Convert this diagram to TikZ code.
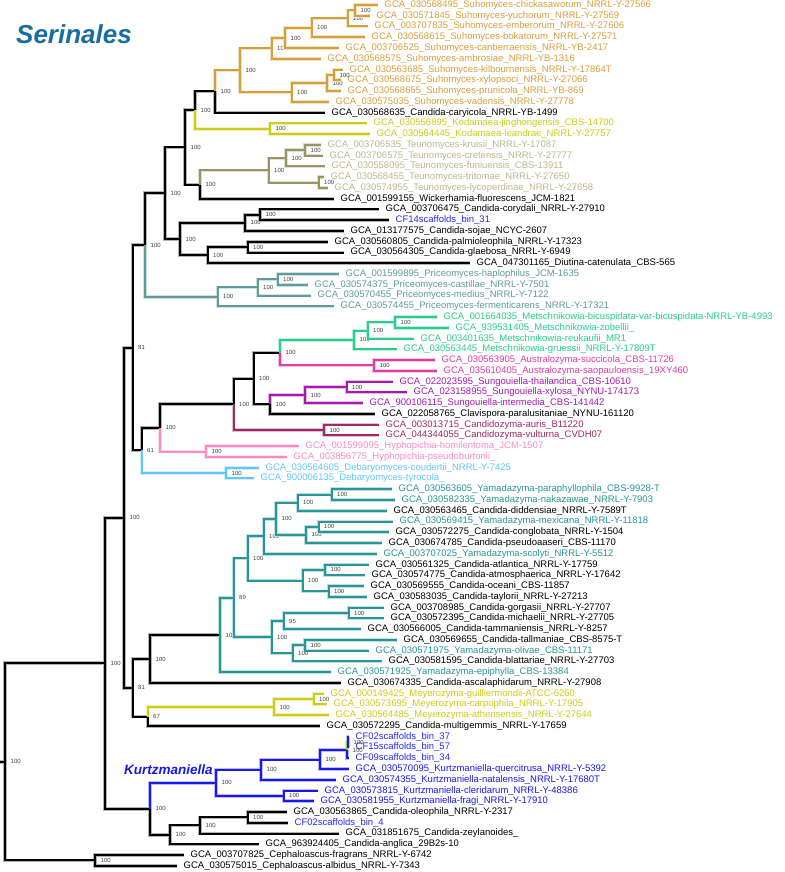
\documentclass[tikz,border=0pt]{standalone}
\usepackage{fontspec}
\setmainfont{Liberation Sans}
\usetikzlibrary{calc}

\definecolor{suho}{RGB}{213,160,60}
\definecolor{koda}{RGB}{205,205,20}
\definecolor{teun}{RGB}{150,150,100}
\definecolor{teunT}{RGB}{185,185,140}
\definecolor{prico}{RGB}{95,155,155}
\definecolor{mets}{RGB}{40,205,140}
\definecolor{aust}{RGB}{225,60,165}
\definecolor{sung}{RGB}{165,25,175}
\definecolor{cand}{RGB}{160,40,100}
\definecolor{hyph}{RGB}{250,140,195}
\definecolor{deba}{RGB}{95,200,250}
\definecolor{yama}{RGB}{40,150,150}
\definecolor{meye}{RGB}{205,205,20}
\definecolor{kurtz}{RGB}{25,25,235}
\definecolor{binT}{RGB}{40,40,250}
\definecolor{lime}{RGB}{140,200,60}
\definecolor{serin}{RGB}{25,110,160}

\tikzset{
  leaf/.style={anchor=west, inner xsep=6.5pt, inner ysep=0pt, font=\fontsize{9.5}{11}\selectfont},
  boot/.style={anchor=west, xshift=5.5pt, inner sep=0pt, font=\fontsize{6}{6}\selectfont, text=black!75},
  cladename/.style={anchor=west, inner sep=0pt, font=\bfseries\itshape},
}

% internal node at x = #2, halfway between its two children
\newcommand\clade[5]{%
  \path let \p1=($(#3)!.5!(#4)$) in (#2pt,\y1) coordinate (#1);
  \node[boot] at (#1) {#5};}
% one branch, from a node to one of its children
\newcommand\br[3]{\draw[branch=#1] (#2) |- (#3);}

\newcommand\treebranches{%
  % backbone
  \draw[branch=black] (rootstub) -- (root);
  \br{black}{root}{a} \br{black}{root}{ce}
  \br{black}{ce}{l80} \br{black}{ce}{l81}
  \br{black}{a}{b} \br{black}{a}{c}
  \br{black}{b}{d} \br{black}{b}{e}
  \br{black}{d}{f} \br{black}{d}{g}
  \br{black}{f}{o} \br{prico}{f}{pr3}
  \br{black}{o}{n12} \br{black}{o}{q3}
  \br{black}{n12}{n11} \br{black}{n12}{tw}
  \br{black}{n11}{su10} \br{koda}{n11}{ko1}
  % Suhomyces
  \br{suho}{su10}{su9} \br{black}{su10}{l11}
  \br{suho}{su9}{su5} \br{suho}{su9}{su8}
  \br{suho}{su5}{su4} \br{suho}{su5}{l6}
  \br{suho}{su4}{su3} \br{suho}{su4}{l5}
  \br{suho}{su3}{su2} \br{suho}{su3}{l4}
  \br{suho}{su2}{su1} \br{suho}{su2}{l3}
  \br{suho}{su1}{l1} \br{suho}{su1}{l2}
  \br{suho}{su8}{su7} \br{suho}{su8}{l10}
  \br{suho}{su7}{su6} \br{suho}{su7}{l9}
  \br{suho}{su6}{l7} \br{suho}{su6}{l8}
  % Kodamaea
  \br{koda}{ko1}{l12} \br{koda}{ko1}{l13}
  % Teunomyces
  \br{teun}{tw}{te4} \br{black}{tw}{l19}
  \br{teun}{te4}{te2} \br{teun}{te4}{te3}
  \br{teun}{te2}{te1} \br{teun}{te2}{l16}
  \br{teun}{te1}{l14} \br{teun}{te1}{l15}
  \br{teun}{te3}{l17} \br{teun}{te3}{l18}
  % Candida / Diutina
  \br{black}{q3}{q2} \br{black}{q3}{p2}
  \br{black}{q2}{q1} \br{black}{q2}{l22}
  \br{black}{q1}{l20} \br{black}{q1}{l21}
  \br{black}{p2}{p1} \br{black}{p2}{l25}
  \br{black}{p1}{l23} \br{black}{p1}{l24}
  % Priceomyces
  \br{prico}{pr3}{pr2} \br{prico}{pr3}{l29}
  \br{prico}{pr2}{pr1} \br{prico}{pr2}{l28}
  \br{prico}{pr1}{l26} \br{prico}{pr1}{l27}
  % Debaryomyces, Hyphopichia, Candidozyma
  \br{black}{g}{hx} \br{deba}{g}{db}
  \br{deba}{db}{l44} \br{deba}{db}{l45}
  \br{black}{hx}{hw} \br{hyph}{hx}{hy}
  \br{hyph}{hy}{l42} \br{hyph}{hy}{l43}
  \br{black}{hw}{v} \br{cand}{hw}{cz}
  \br{cand}{cz}{l40} \br{cand}{cz}{l41}
  % Metschnikowia, Australozyma, Sungouiella
  \br{black}{v}{u} \br{black}{v}{sg3}
  \br{mets}{u}{me3} \br{aust}{u}{au}
  \br{mets}{me3}{me2} \br{mets}{me3}{l33}
  \br{mets}{me2}{me1} \br{mets}{me2}{l32}
  \br{mets}{me1}{l30} \br{mets}{me1}{l31}
  \br{aust}{au}{l34} \br{aust}{au}{l35}
  \br{sung}{sg3}{sg2} \br{black}{sg3}{l39}
  \br{sung}{sg2}{sg1} \br{sung}{sg2}{l38}
  \br{sung}{sg1}{l36} \br{sung}{sg1}{l37}
  % Yamadazyma
  \br{black}{e}{e2} \br{black}{e}{e3}
  \br{black}{e2}{ya17} \br{black}{e2}{l64}
  \br{yama}{ya17}{ya16} \br{yama}{ya17}{l63}
  \br{yama}{ya16}{ya10} \br{yama}{ya16}{ya15}
  \br{yama}{ya10}{ya6} \br{yama}{ya10}{ya9}
  \br{yama}{ya6}{ya5} \br{yama}{ya6}{l52}
  \br{yama}{ya5}{ya2} \br{yama}{ya5}{ya4}
  \br{yama}{ya2}{ya1} \br{yama}{ya2}{l48}
  \br{yama}{ya1}{l46} \br{yama}{ya1}{l47}
  \br{yama}{ya4}{ya3} \br{yama}{ya4}{l51}
  \br{yama}{ya3}{l49} \br{yama}{ya3}{l50}
  \br{yama}{ya9}{ya7} \br{yama}{ya9}{ya8}
  \br{yama}{ya7}{l53} \br{yama}{ya7}{l54}
  \br{yama}{ya8}{l55} \br{yama}{ya8}{l56}
  \br{yama}{ya15}{ya12} \br{yama}{ya15}{ya14}
  \br{yama}{ya12}{ya11} \br{yama}{ya12}{l59}
  \br{yama}{ya11}{l57} \br{yama}{ya11}{l58}
  \br{yama}{ya14}{ya13} \br{yama}{ya14}{l62}
  \br{yama}{ya13}{l60} \br{yama}{ya13}{l61}
  % Meyerozyma
  \br{meye}{e3}{my2} \br{black}{e3}{l68}
  \br{meye}{my2}{my1} \br{meye}{my2}{l67}
  \br{meye}{my1}{l65} \br{meye}{my1}{l66}
  % Kurtzmaniella
  \br{kurtz}{c}{ku6} \br{black}{c}{ca3}
  \br{kurtz}{ku6}{ku4} \br{kurtz}{ku6}{ku5}
  \br{kurtz}{ku4}{ku3} \br{kurtz}{ku4}{l73}
  \br{kurtz}{ku3}{ku2} \br{kurtz}{ku3}{l72}
  \br{lime}{ku2}{ku1} \br{kurtz}{ku2}{l71}
  \br{kurtz}{ku1}{l69} \br{kurtz}{ku1}{l70}
  \br{kurtz}{ku5}{l74} \br{kurtz}{ku5}{l75}
  % Candida oleophila group
  \br{black}{ca3}{ca2} \br{black}{ca3}{l79}
  \br{black}{ca2}{ca1} \br{black}{ca2}{l78}
  \br{black}{ca1}{l76} \br{black}{ca1}{l77}
}

\begin{document}
\begin{tikzpicture}[x=1pt, y=-1pt]
    \useasboundingbox (0,0) rectangle (784,872);

    % Title
    \node[cladename, text=serin, font=\fontsize{26}{30}\selectfont\bfseries\itshape] (serinales) at (16,34) {Serinales};

    % Leaves: Suhomyces
    \node[leaf, text=suho] (l1) at (378,5.0) {GCA\_030568495\_Suhomyces-chickasaworum\_NRRL-Y-27566};
    \node[leaf, text=suho] (l2) at (370,15.8) {GCA\_030571845\_Suhomyces-yuchorum\_NRRL-Y-27569};
    \node[leaf, text=suho] (l3) at (368,26.5) {GCA\_003707835\_Suhomyces-emberorum\_NRRL-Y-27606};
    \node[leaf, text=suho] (l4) at (365,37.3) {GCA\_030568615\_Suhomyces-bokatorum\_NRRL-Y-27571};
    \node[leaf, text=suho] (l5) at (339,48.0) {GCA\_003706525\_Suhomyces-canberraensis\_NRRL-YB-2417};
    \node[leaf, text=suho] (l6) at (321,58.8) {GCA\_030568575\_Suhomyces-ambrosiae\_NRRL-YB-1316};
    \node[leaf, text=suho] (l7) at (343,69.6) {GCA\_030563685\_Suhomyces-kilbournensis\_NRRL-Y-17864T};
    \node[leaf, text=suho] (l8) at (341,80.3) {GCA\_030568675\_Suhomyces-xylopsoci\_NRRL-Y-27066};
    \node[leaf, text=suho] (l9) at (341,91.1) {GCA\_030568655\_Suhomyces-prunicola\_NRRL-YB-869};
    \node[leaf, text=suho] (l10) at (329,101.8) {GCA\_030575035\_Suhomyces-vadensis\_NRRL-Y-27778};
    \node[leaf] (l11) at (325,112.6) {GCA\_030568635\_Candida-caryicola\_NRRL-YB-1499};
    % Kodamaea
    \node[leaf, text=koda] (l12) at (367,123.4) {GCA\_030556895\_Kodamaea-jinghongensis\_CBS-14700};
    \node[leaf, text=koda] (l13) at (370,134.1) {GCA\_030564445\_Kodamaea-leandrae\_NRRL-Y-27757};
    % Teunomyces
    \node[leaf, text=teunT] (l14) at (321,144.9) {GCA\_003706535\_Teunomyces-kruisii\_NRRL-Y-17087};
    \node[leaf, text=teunT] (l15) at (323,155.6) {GCA\_003706575\_Teunomyces-cretensis\_NRRL-Y-27777};
    \node[leaf, text=teunT] (l16) at (325,166.4) {GCA\_030558095\_Teunomyces-funiuensis\_CBS-13911};
    \node[leaf, text=teunT] (l17) at (324,177.2) {GCA\_030568455\_Teunomyces-tritomae\_NRRL-Y-27650};
    \node[leaf, text=teunT] (l18) at (328,187.9) {GCA\_030574955\_Teunomyces-lycoperdinae\_NRRL-Y-27658};
    \node[leaf] (l19) at (334,198.7) {GCA\_001599155\_Wickerhamia-fluorescens\_JCM-1821};
    % Candida / Diutina
    \node[leaf] (l20) at (379,209.4) {GCA\_003706475\_Candida-corydali\_NRRL-Y-27910};
    \node[leaf, text=binT] (l21) at (389,220.2) {CF14scaffolds\_bin\_31};
    \node[leaf] (l22) at (344,231.0) {GCA\_013177575\_Candida-sojae\_NCYC-2607};
    \node[leaf] (l23) at (328,241.7) {GCA\_030560805\_Candida-palmioleophila\_NRRL-Y-17323};
    \node[leaf] (l24) at (344,252.5) {GCA\_030564305\_Candida-glaebosa\_NRRL-Y-6949};
    \node[leaf] (l25) at (470,263.2) {GCA\_047301165\_Diutina-catenulata\_CBS-565};
    % Priceomyces
    \node[leaf, text=prico] (l26) at (339,274.0) {GCA\_001599895\_Priceomyces-haplophilus\_JCM-1635};
    \node[leaf, text=prico] (l27) at (308,284.8) {GCA\_030574375\_Priceomyces-castillae\_NRRL-Y-7501};
    \node[leaf, text=prico] (l28) at (311,295.5) {GCA\_030570455\_Priceomyces-medius\_NRRL-Y-7122};
    \node[leaf, text=prico] (l29) at (334,306.3) {GCA\_030574455\_Priceomyces-fermenticarens\_NRRL-Y-17321};
    % Metschnikowia
    \node[leaf, text=mets] (l30) at (437,317.0) {GCA\_001664035\_Metschnikowia-bicuspidata-var-bicuspidata-NRRL-YB-4993};
    \node[leaf, text=mets] (l31) at (449,327.8) {GCA\_939531405\_Metschnikowia-zobellii\_};
    \node[leaf, text=mets] (l32) at (414,338.6) {GCA\_003401635\_Metschnikowia-reukaufii\_MR1};
    \node[leaf, text=mets] (l33) at (397,349.3) {GCA\_030563445\_Metschnikowia-gruessii\_NRRL-Y-17809T};
    % Australozyma
    \node[leaf, text=aust] (l34) at (435,360.1) {GCA\_030563905\_Australozyma-succicola\_CBS-11726};
    \node[leaf, text=aust] (l35) at (437,370.8) {GCA\_035610405\_Australozyma-saopauloensis\_19XY460};
    % Sungouiella
    \node[leaf, text=sung] (l36) at (393,381.6) {GCA\_022023595\_Sungouiella-thailandica\_CBS-10610};
    \node[leaf, text=sung] (l37) at (407,392.4) {GCA\_023158955\_Sungouiella-xylosa\_NYNU-174173};
    \node[leaf, text=sung] (l38) at (363,403.1) {GCA\_900106115\_Sungouiella-intermedia\_CBS-141442};
    \node[leaf] (l39) at (375,413.9) {GCA\_022058765\_Clavispora-paralusitaniae\_NYNU-161120};
    % Candidozyma
    \node[leaf, text=cand] (l40) at (379,424.6) {GCA\_003013715\_Candidozyma-auris\_B11220};
    \node[leaf, text=cand] (l41) at (379,435.4) {GCA\_044344055\_Candidozyma-vulturna\_CVDH07};
    % Hyphopichia
    \node[leaf, text=hyph] (l42) at (299,446.2) {GCA\_001599095\_Hyphopichia-homilentoma\_JCM-1507};
    \node[leaf, text=hyph] (l43) at (287,456.9) {GCA\_003856775\_Hyphopichia-pseudoburtonii\_};
    % Debaryomyces
    \node[leaf, text=deba] (l44) at (259,467.7) {GCA\_030564605\_Debaryomyces-coudertii\_NRRL-Y-7425};
    \node[leaf, text=deba] (l45) at (254,478.4) {GCA\_900006135\_Debaryomyces-tyrocola\_};
    % Yamadazyma
    \node[leaf, text=yama] (l46) at (392,489.2) {GCA\_030563605\_Yamadazyma-paraphyllophila\_CBS-9928-T};
    \node[leaf, text=yama] (l47) at (395,500.0) {GCA\_030582335\_Yamadazyma-nakazawae\_NRRL-Y-7903};
    \node[leaf] (l48) at (387,510.7) {GCA\_030563465\_Candida-diddensiae\_NRRL-Y-7589T};
    \node[leaf, text=yama] (l49) at (393,521.5) {GCA\_030569415\_Yamadazyma-mexicana\_NRRL-Y-11818};
    \node[leaf] (l50) at (389,532.2) {GCA\_030572275\_Candida-conglobata\_NRRL-Y-1504};
    \node[leaf] (l51) at (382,543.0) {GCA\_030674785\_Candida-pseudoaaseri\_CBS-11170};
    \node[leaf, text=yama] (l52) at (377,553.8) {GCA\_003707025\_Yamadazyma-scolyti\_NRRL-Y-5512};
    \node[leaf] (l53) at (369,564.5) {GCA\_030561325\_Candida-atlantica\_NRRL-Y-17759};
    \node[leaf] (l54) at (365,575.3) {GCA\_030574775\_Candida-atmosphaerica\_NRRL-Y-17642};
    \node[leaf] (l55) at (364,586.0) {GCA\_030569555\_Candida-oceani\_CBS-11857};
    \node[leaf] (l56) at (367,596.8) {GCA\_030583035\_Candida-taylorii\_NRRL-Y-27213};
    \node[leaf] (l57) at (384,607.6) {GCA\_003708985\_Candida-gorgasii\_NRRL-Y-27707};
    \node[leaf] (l58) at (384,618.3) {GCA\_030572395\_Candida-michaelii\_NRRL-Y-27705};
    \node[leaf] (l59) at (361,629.1) {GCA\_030566005\_Candida-tammaniensis\_NRRL-Y-8257};
    \node[leaf] (l60) at (397,639.8) {GCA\_030569655\_Candida-tallmaniae\_CBS-8575-T};
    \node[leaf, text=yama] (l61) at (369,650.6) {GCA\_030571975\_Yamadazyma-olivae\_CBS-11171};
    \node[leaf] (l62) at (382,661.4) {GCA\_030581595\_Candida-blattariae\_NRRL-Y-27703};
    \node[leaf, text=yama] (l63) at (331,672.1) {GCA\_030571925\_Yamadazyma-epiphylla\_CBS-13384};
    \node[leaf] (l64) at (341,682.9) {GCA\_030674335\_Candida-ascalaphidarum\_NRRL-Y-27908};
    % Meyerozyma
    \node[leaf, text=meye] (l65) at (324,693.6) {GCA\_000149425\_Meyerozyma-guilliermondii-ATCC-6260};
    \node[leaf, text=meye] (l66) at (327,704.4) {GCA\_030573695\_Meyerozyma-carpophila\_NRRL-Y-17905};
    \node[leaf, text=meye] (l67) at (329,715.2) {GCA\_030564485\_Meyerozyma-athensensis\_NRRL-Y-27644};
    \node[leaf] (l68) at (320,725.9) {GCA\_030572295\_Candida-multigemmis\_NRRL-Y-17659};
    % Kurtzmaniella
    \node[leaf, text=binT] (l69) at (349,736.7) {CF02scaffolds\_bin\_37};
    \node[leaf, text=binT] (l70) at (349,747.4) {CF15scaffolds\_bin\_57};
    \node[leaf, text=binT] (l71) at (349,758.2) {CF09scaffolds\_bin\_34};
    \node[leaf, text=kurtz] (l72) at (349,769.0) {GCA\_030570095\_Kurtzmaniella-quercitrusa\_NRRL-Y-5392};
    \node[leaf, text=kurtz] (l73) at (336,779.7) {GCA\_030574355\_Kurtzmaniella-natalensis\_NRRL-Y-17680T};
    \node[leaf, text=kurtz] (l74) at (318,790.5) {GCA\_030573815\_Kurtzmaniella-cleridarum\_NRRL-Y-48386};
    \node[leaf, text=kurtz] (l75) at (314,801.2) {GCA\_030581955\_Kurtzmaniella-fragi\_NRRL-Y-17910};
    % Candida oleophila group, Cephaloascus
    \node[leaf] (l76) at (287,812.0) {GCA\_030563865\_Candida-oleophila\_NRRL-Y-2317};
    \node[leaf, text=binT] (l77) at (288,822.8) {CF02scaffolds\_bin\_4};
    \node[leaf] (l78) at (339,833.5) {GCA\_031851675\_Candida-zeylanoides\_};
    \node[leaf] (l79) at (259,844.3) {GCA\_963924405\_Candida-anglica\_29B2s-10};
    \node[leaf] (l80) at (184,855.0) {GCA\_003707825\_Cephaloascus-fragrans\_NRRL-Y-6742};
    \node[leaf] (l81) at (177,865.8) {GCA\_030575015\_Cephaloascus-albidus\_NRRL-Y-7343};

    % Internal nodes with support values
    \clade{su1}{355}{l1}{l2}{100}
    \clade{su2}{347.5}{su1}{l3}{100}
    \clade{su3}{311.5}{su2}{l4}{100}
    \clade{su4}{285}{su3}{l5}{100}
    \clade{su5}{271.5}{su4}{l6}{100}
    \clade{su6}{334}{l7}{l8}{100}
    \clade{su7}{327}{su6}{l9}{100}
    \clade{su8}{291.5}{su7}{l10}{100}
    \clade{su9}{240}{su5}{su8}{100}
    \clade{su10}{215}{su9}{l11}{100}
    \clade{ko1}{270}{l12}{l13}{100}
    \clade{n11}{195}{su10}{ko1}{100}
    \clade{te1}{305}{l14}{l15}{100}
    \clade{te2}{286}{te1}{l16}{100}
    \clade{te3}{318.5}{l17}{l18}{100}
    \clade{te4}{268.5}{te2}{te3}{100}
    \clade{tw}{200}{te4}{l19}{100}
    \clade{n12}{185}{n11}{tw}{100}
    \clade{q1}{260}{l20}{l21}{100}
    \clade{q2}{245}{q1}{l22}{100}
    \clade{p1}{247.5}{l23}{l24}{100}
    \clade{p2}{207.5}{p1}{l25}{100}
    \clade{q3}{180}{q2}{p2}{100}
    \clade{o}{165}{n12}{q3}{100}
    \clade{pr1}{277.5}{l26}{l27}{100}
    \clade{pr2}{257.5}{pr1}{l28}{100}
    \clade{pr3}{217.5}{pr2}{l29}{100}
    \clade{f}{145}{o}{pr3}{100}
    \clade{me1}{395}{l30}{l31}{100}
    \clade{me2}{367.5}{me1}{l32}{100}
    \clade{me3}{354}{me2}{l33}{100}
    \clade{au}{374}{l34}{l35}{100}
    \clade{u}{280}{me3}{au}{100}
    \clade{sg1}{346.5}{l36}{l37}{100}
    \clade{sg2}{305}{sg1}{l38}{100}
    \clade{sg3}{270}{sg2}{l39}{100}
    \clade{v}{253.5}{u}{sg3}{100}
    \clade{cz}{324}{l40}{l41}{100}
    \clade{hw}{233.5}{v}{cz}{100}
    \clade{hy}{206}{l42}{l43}{100}
    \clade{hx}{160}{hw}{hy}{100}
    \clade{db}{226}{l44}{l45}{100}
    \clade{g}{141.5}{hx}{db}{61}
    \clade{d}{132.5}{f}{g}{81}
    \clade{ya1}{331.5}{l46}{l47}{100}
    \clade{ya2}{297.5}{ya1}{l48}{100}
    \clade{ya3}{318.5}{l49}{l50}{100}
    \clade{ya4}{306}{ya3}{l51}{100}
    \clade{ya5}{276}{ya2}{ya4}{100}
    \clade{ya6}{263.5}{ya5}{l52}{100}
    \clade{ya7}{325}{l53}{l54}{100}
    \clade{ya8}{328.5}{l55}{l56}{100}
    \clade{ya9}{302.5}{ya7}{ya8}{100}
    \clade{ya10}{247.5}{ya6}{ya9}{100}
    \clade{ya11}{348.5}{l57}{l58}{100}
    \clade{ya12}{283.5}{ya11}{l59}{95}
    \clade{ya13}{305}{l60}{l61}{100}
    \clade{ya14}{292.5}{ya13}{l62}{100}
    \clade{ya15}{271.5}{ya12}{ya14}{100}
    \clade{ya16}{233.5}{ya10}{ya15}{89}
    \clade{ya17}{220}{ya16}{l63}{100}
    \clade{e2}{150}{ya17}{l64}{100}
    \clade{my1}{313.5}{l65}{l66}{100}
    \clade{my2}{274}{my1}{l67}{100}
    \clade{e3}{147.5}{my2}{l68}{67}
    \clade{e}{132.5}{e2}{e3}{81}
    \clade{b}{124}{d}{e}{100}
    \clade{ku1}{348}{l69}{l70}{100}
    \clade{ku2}{347}{ku1}{l71}{100}
    \clade{ku3}{320}{ku2}{l72}{100}
    \clade{ku4}{261}{ku3}{l73}{100}
    \clade{ku5}{283.5}{l74}{l75}{100}
    \clade{ku6}{216}{ku4}{ku5}{100}
    \clade{ca1}{247.5}{l76}{l77}{100}
    \clade{ca2}{200}{ca1}{l78}{100}
    \clade{ca3}{170}{ca2}{l79}{100}
    \clade{c}{150}{ku6}{ca3}{100}
    \clade{a}{105}{b}{c}{100}
    \clade{ce}{95}{l80}{l81}{100}
    \clade{root}{5}{a}{ce}{100}
    \path (root) ++(-5,0) coordinate (rootstub);

    % Kurtzmaniella label
    \node[cladename, text=kurtz, font=\fontsize{13.5}{15}\selectfont\bfseries\itshape] (kurtzname) at (124,770) {Kurtzmaniella};

    % Branches: pale halo first, then the line itself
    \tikzset{branch/.style={draw=#1!30, line width=3.6pt}}
    \treebranches
    \tikzset{branch/.style={draw=#1, line width=2pt}}
    \treebranches

\end{tikzpicture}
\end{document}
